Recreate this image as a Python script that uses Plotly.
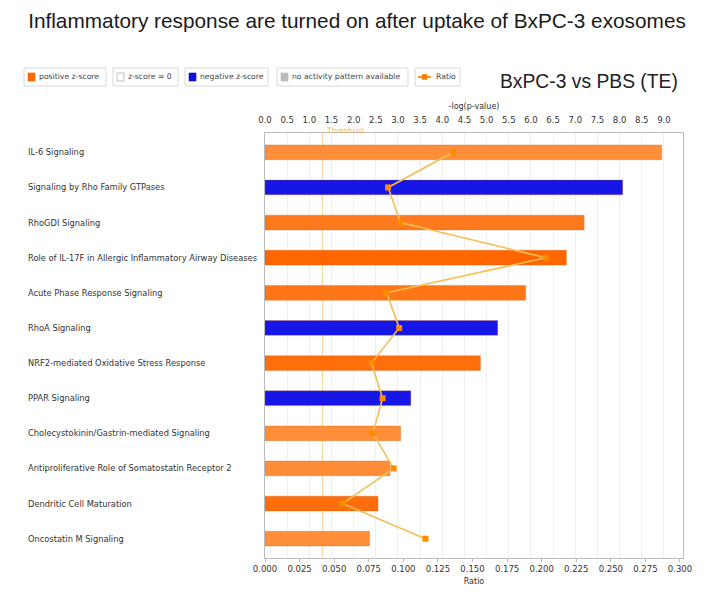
import plotly.graph_objects as go

# ---------------- data ----------------
pathways = [
    "IL-6 Signaling",
    "Signaling by Rho Family GTPases",
    "RhoGDI Signaling",
    "Role of IL-17F in Allergic Inflammatory Airway Diseases",
    "Acute Phase Response Signaling",
    "RhoA Signaling",
    "NRF2-mediated Oxidative Stress Response",
    "PPAR Signaling",
    "Cholecystokinin/Gastrin-mediated Signaling",
    "Antiproliferative Role of Somatostatin Receptor 2",
    "Dendritic Cell Maturation",
    "Oncostatin M Signaling",
]
neg_log_p = [8.95, 8.07, 7.2, 6.8, 5.88, 5.25, 4.86, 3.29, 3.06, 2.82, 2.55, 2.36]
ratio = [0.136, 0.089, 0.098, 0.203, 0.088, 0.097, 0.077, 0.085, 0.078, 0.093, 0.056, 0.116]
z_sign = ["pos", "neg", "pos", "pos", "pos", "neg", "pos", "neg", "pos", "pos", "pos", "pos"]
pos_shade = [0.0, None, 0.5, 1.0, 0.6, None, 0.8, None, 0.0, 0.05, 0.8, 0.0]
threshold = 1.3
top_ticks = [i * 0.5 for i in range(19)]
bottom_ticks = [i * 0.025 for i in range(13)]

# ---------------- styles ----------------
FONT = "DejaVu Sans"
BLUE = "#1616E6"


def orange(s):
    light = (255, 142, 58)
    dark = (255, 102, 0)
    r, g, b = [round(l + (d - l) * s) for l, d in zip(light, dark)]
    return f"rgb({r},{g},{b})"


bar_colors = [BLUE if z == "neg" else orange(s) for z, s in zip(z_sign, pos_shade)]

fig = go.Figure()

# bars on the top (-log p) axis -> xaxis (side top)
fig.add_trace(go.Bar(
    x=neg_log_p, y=pathways, orientation="h", xaxis="x", yaxis="y",
    marker=dict(color=bar_colors, line=dict(color="rgba(200,90,0,0.5)", width=0.6)),
    width=0.42, showlegend=False, hoverinfo="x+y",
))

# ratio line on the bottom axis -> xaxis2 (overlaying, drawn on top)
fig.add_trace(go.Scatter(
    x=ratio, y=pathways, xaxis="x2", yaxis="y", mode="lines+markers",
    line=dict(color="#F4BE55", width=1.6),
    marker=dict(symbol="square", size=6, color="#FF8C00"),
    showlegend=False,
))

# threshold line
fig.add_shape(type="line", xref="x", yref="paper", x0=threshold, x1=threshold,
              y0=0, y1=1, line=dict(color="#F8D9A0", width=1.3), layer="below")
fig.add_annotation(xref="x", yref="paper", x=threshold + 0.02, y=1.0, yshift=9,
                   text="Threshold", showarrow=False, xanchor="left",
                   font=dict(family=FONT, size=7.5, color="rgba(240,160,40,0.75)"))

# category labels, left-aligned
for p in pathways:
    fig.add_annotation(xref="paper", yref="y", x=-0.572, y=p, text=p, showarrow=False,
                       xanchor="left", font=dict(family=FONT, size=8.3, color="#333"))

# ---------------- legend (manual) ----------------
W, H = 714, 601
L, R, T, B = 265, 31, 133, 43
pw, ph = W - L - R, H - T - B


def px(x):
    return (x - L) / pw


def py(y):
    return (H - B - y) / ph


legend_items = [
    ("positive z-score", "#FF6600", 24, 106),
    ("z-score = 0", "white", 113, 178),
    ("negative z-score", "#1010DD", 185, 268),
    ("no activity pattern available", "#BBBBBB", 277, 408),
    ("Ratio", None, 415, 460),
]
for label, col, x0, x1 in legend_items:
    fig.add_shape(type="rect", xref="paper", yref="paper", x0=px(x0), x1=px(x1),
                  y0=py(86), y1=py(68), line=dict(color="#D8D8D8", width=1),
                  fillcolor="white")
    if col is not None:
        fig.add_shape(type="rect", xref="paper", yref="paper", x0=px(x0 + 4), x1=px(x0 + 11),
                      y0=py(81), y1=py(73),
                      line=dict(color="#999" if col == "white" else col, width=0.6),
                      fillcolor=col)
        tx = x0 + 13
    else:
        fig.add_shape(type="line", xref="paper", yref="paper", x0=px(x0 + 3), x1=px(x0 + 16),
                      y0=py(77), y1=py(77), line=dict(color="#FF9A20", width=2))
        fig.add_shape(type="rect", xref="paper", yref="paper", x0=px(x0 + 7), x1=px(x0 + 12),
                      y0=py(79.5), y1=py(74.5), line=dict(color="#FF8000", width=0.5),
                      fillcolor="#FF8000")
        tx = x0 + 19
    fig.add_annotation(xref="paper", yref="paper", x=px(tx), y=py(77), text=label,
                       showarrow=False, xanchor="left", yanchor="middle",
                       font=dict(family=FONT, size=7.7, color="#444"))

fig.add_annotation(xref="paper", yref="paper", x=px(589), y=py(82),
                   text="BxPC-3 vs PBS (TE)", showarrow=False, xanchor="center",
                   yanchor="middle", font=dict(family="Liberation Sans", size=19.3, color="#222"))

fig.update_layout(
    width=W, height=H,
    margin=dict(l=L, r=R, t=T, b=B),
    paper_bgcolor="white", plot_bgcolor="white",
    title=dict(text="Inflammatory response are turned on after uptake of BxPC-3 exosomes",
               x=0.5, xref="container", xanchor="center", y=1 - 21 / H, yref="container",
               yanchor="middle",
               font=dict(family="Liberation Sans", size=20.8, color="#1a1a1a")),
    xaxis=dict(range=[0, 9.43], side="top", tickvals=top_ticks,
               tickformat=".1f", showgrid=True, gridcolor="#EFEFEF", gridwidth=1,
               zeroline=False, showline=True, linecolor="#BBBBBB",
               ticks="outside", ticklen=6, tickcolor="rgba(0,0,0,0)",
               tickfont=dict(family=FONT, size=8.5, color="#333"),
               title=dict(text="-log(p-value)", font=dict(family=FONT, size=8, color="#333"),
                          standoff=3),
               fixedrange=True),
    xaxis2=dict(range=[0, 0.3022], overlaying="x", side="bottom", tickvals=bottom_ticks,
                tickformat=".3f", showgrid=False, zeroline=False, showline=True,
                linecolor="#BBBBBB", ticks="outside", ticklen=3, tickcolor="#BBBBBB",
                tickfont=dict(family=FONT, size=8.5, color="#333"),
                title=dict(text="Ratio", font=dict(family=FONT, size=8, color="#333"),
                           standoff=5),
                fixedrange=True),
    yaxis=dict(autorange=False, range=[len(pathways) - 0.45, -0.55],
               showticklabels=False, showgrid=False, zeroline=False,
               showline=True, linecolor="#BBBBBB", mirror=True, fixedrange=True),
)

fig.write_html("out.html")
